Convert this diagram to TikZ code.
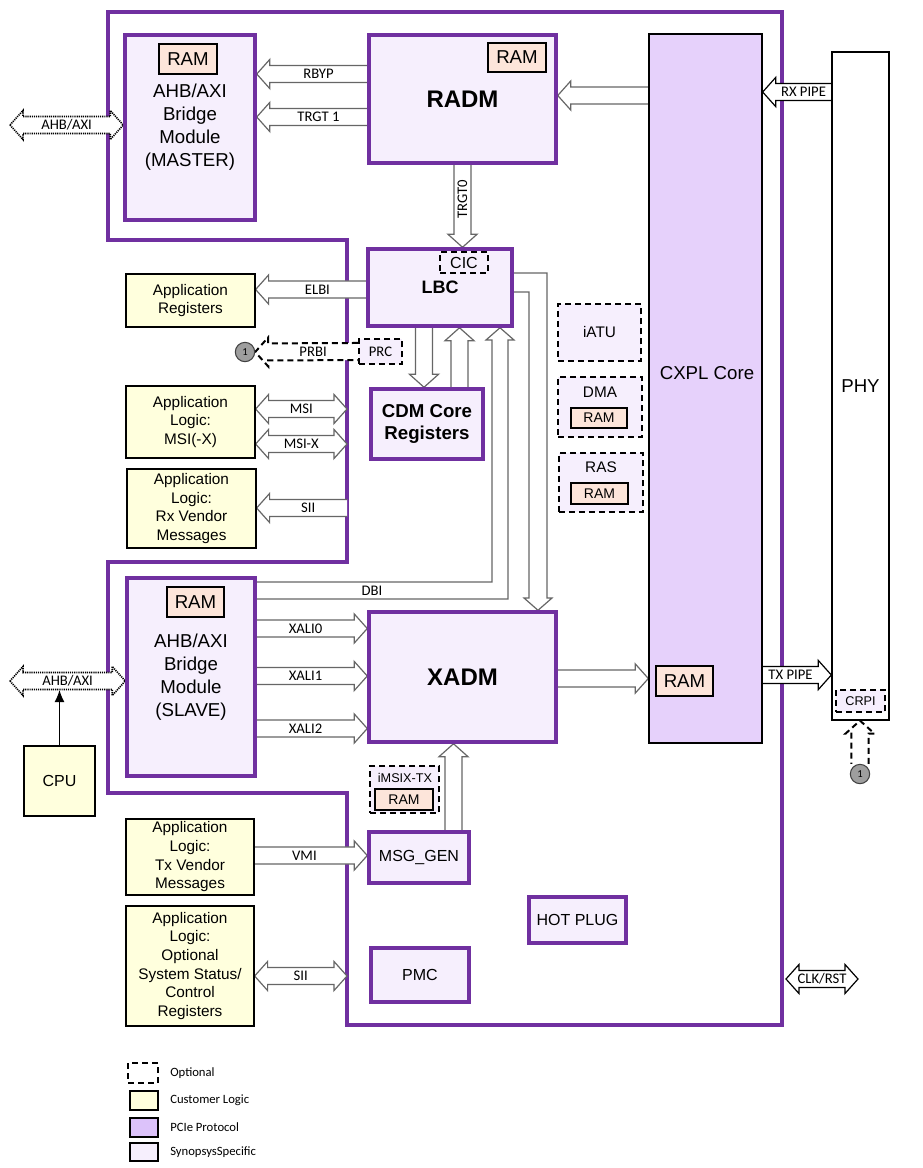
\documentclass[tikz,border=0pt]{standalone}
\usepackage{fontspec}
\setmainfont{Liberation Sans}
\newfontfamily\calfont{Carlito}
\usetikzlibrary{calc,arrows.meta}

\definecolor{pcpurple}{HTML}{7030A0}
\definecolor{synfill}{HTML}{F6EFFD}
\definecolor{protofill}{HTML}{E6D1FB}
\definecolor{legproto}{HTML}{DCC2FA}
\definecolor{custfill}{HTML}{FFFFDD}
\definecolor{ramfill}{HTML}{FDE5DA}

\pgfdeclarelayer{back}
\pgfdeclarelayer{arrows}
\pgfsetlayers{back,arrows,main}

% misure delle frecce a blocco
\def\bw{6.4pt}  % meta' corpo
\def\bh{10.9pt} % meta' punta
\def\bk{9.75pt} % lunghezza punta

\newcommand\apptext{\fontsize{11.5}{14}\selectfont}
\newcommand\sigtext{\calfont\fontsize{11}{13}\selectfont}

\tikzset{
  sz/.style 2 args={minimum width=#1*0.75pt, minimum height=#2*0.75pt},
  border/.style={draw=pcpurple, line width=3pt, line join=miter},
  synbox/.style={draw=pcpurple, line width=2.6pt, fill=synfill, inner sep=0pt, font=\fontsize{12}{14}\selectfont},
  custbox/.style={draw=black, line width=0.9pt, fill=custfill, inner sep=0pt, align=center, font=\apptext},
  ramsmall/.style={draw=black, line width=0.8pt, fill=ramfill, inner sep=0pt, font=\fontsize{10.5}{12}\selectfont},
  ramlarge/.style={ramsmall, font=\fontsize{14}{16}\selectfont},
  optbox/.style={draw=black, line width=1.5pt, dash pattern=on 4.5pt off 3pt, fill=synfill, inner sep=0pt},
  legbox/.style={draw=black, line width=0.9pt, inner sep=0pt},
  blk/.style={fill=white, draw=black!60, line width=0.9pt, line join=miter},
  pipe/.style={draw=black},
  optarrow/.style={draw=black, line width=1.5pt, dash pattern=on 4.5pt off 3pt},
  dotarrow/.style={draw=black, line width=1.2pt, dash pattern=on 0.9pt off 0.7pt},
  sig/.style={font=\sigtext, inner sep=0pt},
  lbl/.style={},
  circ/.style={circle, draw=black!75, fill=black!38, line width=0.8pt, minimum size=14.5pt, inner sep=0pt, font=\calfont\fontsize{8}{9}\selectfont},
  legtext/.style={anchor=west, inner sep=0pt, font=\calfont\fontsize{9.5}{11}\selectfont},
}

% freccia a blocco: stile, nome, coda, punta, etichetta
\newcommand\barrow[5][]{%
  \path #3 coordinate (#2-t) #4 coordinate (#2-h);
  \path[blk,#1] let \p1=(#2-t), \p2=(#2-h), \n1={atan2(\y2-\y1,\x2-\x1)}, \n2={veclen(\x2-\x1,\y2-\y1)} in
    [shift={(\p1)}, rotate=\n1]
    (0pt,-\bw) -- ({\n2-\bk},-\bw) -- ({\n2-\bk},-\bh) -- (\n2,0pt) -- ({\n2-\bk},\bh) -- ({\n2-\bk},\bw) -- (0pt,\bw)
    ({(\n2-\bk)/2},0pt) node[sig,lbl] (#2) {#5};
}
% freccia a blocco con due punte
\newcommand\dbarrow[5][]{%
  \path #3 coordinate (#2-t) #4 coordinate (#2-h);
  \path[blk,#1] let \p1=(#2-t), \p2=(#2-h), \n1={atan2(\y2-\y1,\x2-\x1)}, \n2={veclen(\x2-\x1,\y2-\y1)} in
    [shift={(\p1)}, rotate=\n1]
    (0pt,0pt) -- (\bk,-\bh) -- (\bk,-\bw) -- ({\n2-\bk},-\bw) -- ({\n2-\bk},-\bh) -- (\n2,0pt)
    -- ({\n2-\bk},\bh) -- ({\n2-\bk},\bw) -- (\bk,\bw) -- (\bk,\bh) -- cycle
    ({\n2/2},0pt) node[sig,lbl] (#2) {#5};
}

\begin{document}
\begin{tikzpicture}[x=0.75pt, y=-0.75pt, >={Latex[length=9pt,width=7.5pt]}]
	\useasboundingbox (0,0) rectangle (922,1168);
	
	% --- Bordo del controller ---
	\coordinate (c1) at (108,12);
	\coordinate (c2) at (782,12);
	\coordinate (c3) at (782,1025);
	\coordinate (c4) at (347,1025);
	\coordinate (c5) at (347,793);
	\coordinate (c6) at (108,793);
	\coordinate (c7) at (108,562);
	\coordinate (c8) at (347,562);
	\coordinate (c9) at (347,240);
	\coordinate (c10) at (108,240);
	\begin{pgfonlayer}{back}
		\draw[border] (c1) -- (c2) -- (c3) -- (c4) -- (c5) -- (c6) -- (c7) -- (c8) -- (c9) -- (c10) -- cycle;
	\end{pgfonlayer}
	
	% --- Blocchi superiori ---
	\node[synbox, sz={130}{185}, align=center, font=\fontsize{14}{17.25}\selectfont] (mbr) at (190,127.5) {AHB/AXI\\Bridge\\Module\\(MASTER)};
	\node[ramlarge, sz={58}{30}] (mram) at (188,59) {RAM};
	\node[synbox, sz={187}{128}, font=\bfseries\fontsize{18}{21}\selectfont] (radm) at (462.5,99) {RADM};
	\node[ramlarge, sz={58}{29}] (rram) at (517,57.5) {RAM};
	\node[synbox, sz={144}{77}, font=\bfseries\fontsize{13.5}{16}\selectfont] (lbc) at (440,287.5) {LBC};
	\node[optbox, sz={48}{21}, font=\fontsize{12}{14}\selectfont] (cic) at (464,262.5) {CIC};
	\node[synbox, sz={112}{70}, align=center, font=\bfseries\fontsize{14}{16.5}\selectfont] (cdm) at (427,424) {CDM Core\\Registers};
	\node[optbox, sz={43}{25}, font=\sigtext] (prc) at (380.5,351.5) {PRC};
	\node[circ] (ca) at (245,352) {1};
	
	% --- Logica applicativa ---
	\node[custbox, sz={129}{53}] (apreg) at (190.5,300.5) {Application\\Registers};
	\node[custbox, sz={129}{72}] (apmsi) at (190.5,422) {Application\\Logic:\\MSI(-X)};
	\node[custbox, sz={129}{79}] (aprx) at (191.5,508.5) {Application\\Logic:\\Rx Vendor\\Messages};
	\node[custbox, sz={128}{76}] (aptx) at (190,857) {Application\\Logic:\\Tx Vendor\\Messages};
	\node[custbox, sz={128}{120}] (apsys) at (190,966) {Application\\Logic:\\Optional\\System Status/\\Control\\Registers};
	\node[custbox, sz={71}{70}, font=\fontsize{12}{14}\selectfont] (cpu) at (59.5,781) {CPU};
	
	% --- Blocchi inferiori ---
	\node[synbox, sz={128}{198}, align=center, font=\fontsize{14}{17.25}\selectfont] (sbr) at (191,677) {AHB/AXI\\Bridge\\Module\\(SLAVE)};
	\node[ramlarge, sz={57}{30}] (sram) at (195.5,602) {RAM};
	\node[synbox, sz={187}{130}, font=\bfseries\fontsize{18}{21}\selectfont] (xadm) at (462.5,677) {XADM};
	\node[optbox, sz={69}{47}] (imsix) at (404.5,789.5) {};
	\node[inner sep=0pt, font=\fontsize{9.5}{11}\selectfont] (imsixt) at (405,778) {iMSIX-TX};
	\node[ramsmall, sz={58}{21}] (iram) at (404,799.5) {RAM};
	\node[synbox, sz={100}{51}] (msg) at (419,857.5) {MSG\_GEN};
	\node[synbox, sz={98}{54}] (pmc) at (420,975) {PMC};
	\node[synbox, sz={97}{46}] (hotplug) at (577.5,920) {HOT PLUG};
	
	% --- Blocchi opzionali ---
	\node[optbox, sz={83}{57}, font=\fontsize{11.5}{13}\selectfont] (iatu) at (599.5,332.5) {iATU};
	\node[optbox, sz={84}{60}] (dma) at (600,407) {};
	\node[inner sep=0pt, font=\fontsize{11.5}{13}\selectfont] (dmat) at (600,392) {DMA};
	\node[ramsmall, sz={56}{20}] (dram) at (599,418) {RAM};
	\node[optbox, sz={84}{59}] (ras) at (601,482.5) {};
	\node[inner sep=0pt, font=\fontsize{11.5}{13}\selectfont] (rast) at (601,467) {RAS};
	\node[ramsmall, sz={57}{21}] (rasram) at (599.5,493.5) {RAM};
	
	% --- Core e PHY ---
	\node[draw=black, line width=1pt, fill=protofill, inner sep=0pt, sz={113}{709}] (cxpl) at (705.5,388.5) {};
	\node[inner sep=0pt, font=\fontsize{14}{16}\selectfont] (cxplt) at (707,373) {CXPL Core};
	\node[ramlarge, sz={57}{30}] (cram) at (684.5,681) {RAM};
	\node[draw=black, line width=1pt, fill=white, inner sep=0pt, sz={57}{668}, font=\fontsize{14}{16}\selectfont] (phy) at (860.5,386) {PHY};
	\node[optbox, sz={49}{22}, font=\fontsize{9.5}{11}\selectfont] (crpi) at (860.5,701) {CRPI};
	\node[circ] (cb) at (860,774) {1};
	
	% --- Frecce ---
	\coordinate (ahbmx) at (10,125);
	\coordinate (ahbsx) at (10,681);
	\coordinate (clkl) at (786,979);
	\coordinate (clkr) at (858,979);
	\begin{pgfonlayer}{arrows}
		\barrow{rbyp}{(radm.west |- 0,74)}{(mbr.east |- 0,74)}{RBYP}
		\barrow{trgta}{(radm.west |- 0,117)}{(mbr.east |- 0,117)}{TRGT 1}
		\barrow{rxcx}{(cxpl.west |- 0,95.5)}{(radm.east |- 0,95.5)}{}
		\barrow[pipe]{rxpipe}{(phy.west |- 0,92)}{(cxpl.east |- 0,92)}{RX PIPE}
		\barrow[lbl/.style={rotate=90}]{trgtz}{(radm.south)}{(radm.south |- lbc.north)}{TRGT0}
		\barrow{elbi}{(lbc.west |- 0,289.5)}{(apreg.east |- 0,289.5)}{ELBI}
		\barrow[optarrow]{prbi}{(prc.west)}{(ca.east)}{PRBI}
		\barrow{lbccdm}{(lbc.south -| 424,0)}{(cdm.north -| 424,0)}{}
		\barrow{cdmlbc}{(cdm.north -| 459.5,0)}{(lbc.south -| 459.5,0)}{}
		\dbarrow{msi}{(apmsi.east |- 0,409)}{(c9 |- 0,409)}{MSI}
		\dbarrow{msix}{(apmsi.east |- 0,444)}{(c9 |- 0,444)}{MSI-X}
		\barrow{siirx}{(c9 |- 0,508)}{(aprx.east |- 0,508)}{SII}
		\barrow{xali0}{(sbr.east |- 0,628.5)}{(xadm.west |- 0,628.5)}{XALI0}
		\barrow{xali1}{(sbr.east |- 0,676)}{(xadm.west |- 0,676)}{XALI1}
		\barrow{xali2}{(sbr.east |- 0,728.5)}{(xadm.west |- 0,728.5)}{XALI2}
		\barrow{xcx}{(xadm.east |- 0,678.5)}{(cxpl.west |- 0,678.5)}{}
		\barrow[pipe]{txpipe}{(cxpl.east |- 0,675)}{(phy.west |- 0,675)}{TX PIPE}
		\barrow[optarrow]{crpia}{(cb.north)}{(cb.north |- phy.south)}{}
		\barrow{msgx}{(msg.north -| 453.5,0)}{(xadm.south -| 453.5,0)}{}
		\barrow{vmi}{(aptx.east |- 0,855.5)}{(msg.west |- 0,855.5)}{VMI}
		\dbarrow{siisys}{(apsys.east |- 0,976)}{(c4 |- 0,976)}{SII}
		\dbarrow[dotarrow]{ahbm}{(ahbmx)}{(mbr.west |- 0,125)}{AHB/AXI}
		\dbarrow[dotarrow]{ahbs}{(ahbsx)}{(sbr.west |- 0,681)}{AHB/AXI}
		\dbarrow[pipe]{clkrst}{(clkl)}{(clkr)}{CLK/RST}
		% DBI: dal bridge slave fino a LBC
		\path[blk] (sbr.east |- 0,582) -- (492,582) -- (492,340) -- (486,340) -- (lbc.south -| 500,0)
			-- (514,340) -- (508,340) -- (508,599) -- (sbr.east |- 0,599);
		\node[sig] (dbi) at (372,591) {DBI};
		% da LBC verso XADM
		\path[blk] (lbc.east |- 0,273) -- (547,273) -- (547,598) -- (552,598) -- (xadm.north -| 538,0)
			-- (524,598) -- (529,598) -- (529,292) -- (lbc.east |- 0,292);
		% CPU sul bus slave
		\draw[->, line width=1pt] (cpu.north) -- (cpu.north |- 0,690);
	\end{pgfonlayer}
	
	% --- Legenda ---
	\node[optbox, fill=white, sz={30}{20}] (lopt) at (143,1073) {};
	\node[legtext] (lopttext) at (170,1073) {Optional};
	\node[legbox, fill=custfill, sz={28}{19}] (lcust) at (144,1100.5) {};
	\node[legtext] (lcusttext) at (170,1100.5) {Customer Logic};
	\node[legbox, fill=legproto, sz={28}{19}] (lproto) at (144,1127.5) {};
	\node[legtext] (lprototext) at (170,1127) {PCIe Protocol};
	\node[legbox, fill=synfill, sz={28}{18}] (lsyn) at (144,1152) {};
	\node[legtext] (lsyntext) at (170,1152) {SynopsysSpecific};
\end{tikzpicture}
\end{document}
